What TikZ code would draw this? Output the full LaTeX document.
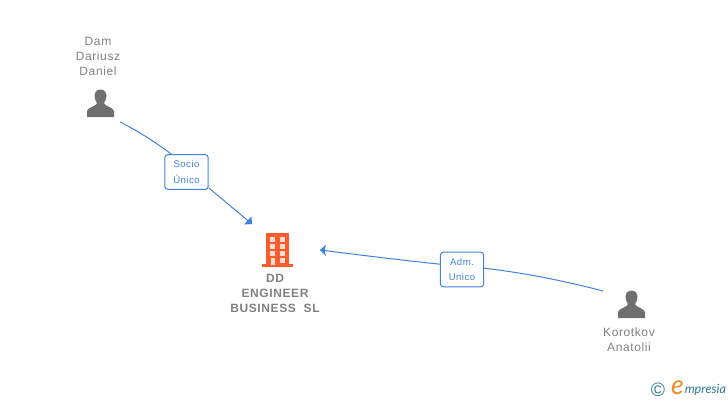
\documentclass[tikz,border=0pt]{standalone}
\usepackage{fontspec}
\setmainfont{Liberation Sans}
\newfontfamily\namefont[LetterSpace=5]{Liberation Sans}
\newfontfamily\logofont{Lato}
\definecolor{namegray}{HTML}{808080}
\definecolor{icongray}{HTML}{6F6F6F}
\definecolor{linkblue}{HTML}{3F82DE}
\definecolor{firmorange}{HTML}{FF5C2E}
\definecolor{logoblue}{HTML}{2F7C96}
\definecolor{logoorange}{HTML}{F28A1E}
\tikzset{
  personname/.style={text=namegray, font=\namefont\fontsize{9}{11.2}\selectfont, align=center, inner sep=0pt},
  firmname/.style={text=namegray, font=\namefont\fontsize{9}{11.2}\selectfont\bfseries, align=center, inner sep=0pt},
  rolebox/.style={draw=linkblue, line width=0.75pt, rounded corners=2.2pt, fill=white, text=linkblue,
    font=\namefont\fontsize{7.2}{11.4}\selectfont, align=center, inner sep=0pt, minimum width=32.5pt, minimum height=26pt},
  link/.style={draw=linkblue, line width=0.75pt}
}
\begin{document}
\begin{tikzpicture}[x=0.75pt,y=-0.75pt]
  \useasboundingbox (0,0) rectangle (728,400);
  % people
  \node [personname] (namedam) at (98,56) {Dam\\Dariusz\\Daniel};
  \node [personname] (namekorotkov) at (629,339.5) {Korotkov\\Anatolii};
  \fill [icongray] (100.5,89.5) .. controls (96.5,89.5) and (94.5,92.5) .. (94.5,96) .. controls (94.5,99) and (96,101.5) .. (97,103) .. controls (97,106) and (88,107) .. (87,111) -- (87,117) -- (114,117) -- (114,111) .. controls (113,107) and (104,106) .. (104,103) .. controls (105,101.5) and (106.5,99) .. (106.5,96) .. controls (106.5,92.5) and (104.5,89.5) .. (100.5,89.5);
  \fill [icongray] (631.5,290.5) .. controls (627.5,290.5) and (625.5,293.5) .. (625.5,297) .. controls (625.5,300) and (627,302.5) .. (628,304) .. controls (628,307) and (619,308) .. (618,312) -- (618,318) -- (645,318) -- (645,312) .. controls (644,308) and (635,307) .. (635,304) .. controls (636,302.5) and (637.5,300) .. (637.5,297) .. controls (637.5,293.5) and (635.5,290.5) .. (631.5,290.5);
  % company
  \fill [firmorange] (266,233) rectangle (289,264);
  \fill [firmorange] (261.5,264) rectangle (293,267);
  \foreach \col in {270,280}
    \foreach \row in {237,244,251}
      \fill [white!80!firmorange] (\col,\row) rectangle ++(5,4.5);
  \fill [white!80!firmorange] (280,258) rectangle ++(5,4.5);
  \fill [white!80!firmorange] (271,258) rectangle (275,265);
  \node [firmname] (namefirm) at (275,293.5) {DD\\ENGINEER\\BUSINESS\ \ SL};
  % links
  \coordinate (startdam) at (120,122);
  \coordinate (tipfirm) at (252,224);
  \coordinate (startkorotkov) at (603,291);
  \coordinate (tipadm) at (320,250);
  \node [rolebox] (socio) at (186.5,172) {Socio\\Único};
  \node [rolebox] (adm) at (462,269.5) {Adm.\\Unico};
  \draw [link] (startdam) .. controls (140,132) and (158,144) .. ([xshift=5.25pt]socio.north west);
  \draw [link] ([yshift=1.5pt]socio.south east) -- (tipfirm);
  \fill [linkblue] (tipfirm) -- (244,224.5) -- (247.5,220.5) -- (251.5,216.5);
  \draw [link] (startkorotkov) .. controls (565,281) and (525,273) .. ([yshift=1pt]adm.east);
  \draw [link] ([yshift=4pt]adm.west) .. controls (400,260) and (360,255) .. (tipadm);
  \fill [linkblue] (tipadm) -- (326,244.5) -- (324.5,250.5) -- (326,256);
  % logo
  \node [text=logoblue, font=\fontsize{14.5}{15}\selectfont, inner sep=0pt] (logoc) at (658,389.5) {©};
  \node [text=logoorange, font=\logofont\itshape\fontsize{20}{20}\selectfont, inner sep=0pt] (logoe) at (677.5,388) {e};
  \node [text=logoblue, font=\logofont\itshape\fontsize{9.5}{10}\selectfont, inner sep=0pt, anchor=west] (logotext) at (684.5,390) {mpresia};
\end{tikzpicture}
\end{document}
